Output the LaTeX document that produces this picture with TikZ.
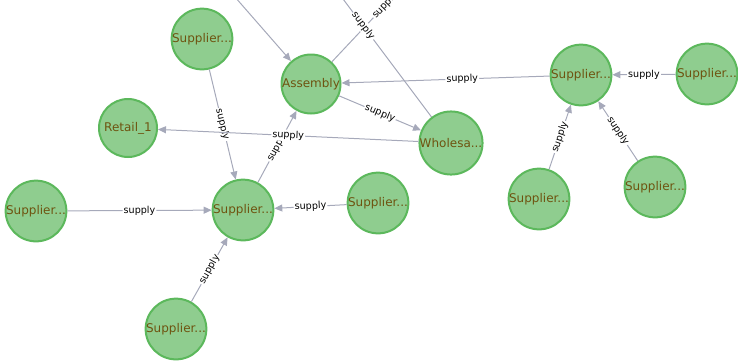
\documentclass[tikz,border=0pt]{standalone}
\usepackage{fontspec}
\setmainfont{DejaVu Sans}
\usetikzlibrary{positioning}
\usetikzlibrary{arrows.meta}
\definecolor{nodefill}{HTML}{8FCD8F}
\definecolor{nodeline}{HTML}{5CB85C}
\definecolor{nodetext}{HTML}{6E5310}
\definecolor{edgeline}{HTML}{A6A9BA}

\begin{document}
\begin{tikzpicture}[x=1pt,y=-1pt,
    entity/.style={circle,draw=nodeline,fill=nodefill,line width=2pt,
      minimum size=58pt,inner sep=0pt,text=nodetext,font=\fontsize{12}{14}\selectfont},
    flow/.style={draw=edgeline,line width=1pt,-{Triangle[length=8pt,width=7pt]}},
    lbl/.style={fill=white,inner sep=1pt,sloped,text=black,font=\fontsize{9.6}{11}\selectfont}]
  \useasboundingbox (0,0) rectangle (738,360);
  \clip (0,0) rectangle (738,360);

  % left cluster
  \node (sTop) at (202,39) [entity] {Supplier...};
  \node (assembly) at (311,84) [entity] {Assembly};
  \node (retail) at (128,128) [entity] {Retail\_1};
  \node (wholesale) at (451,143) [entity] {Wholesa...};
  \node (sCenter) at (243,210) [entity] {Supplier...};
  \node (sLeft) at (36,211) [entity] {Supplier...};
  \node (sMid) at (378,203) [entity] {Supplier...};
  \node (sBottom) at (176,329) [entity] {Supplier...};

  % right cluster
  \node (sHub) at (581,75) [entity] {Supplier...};
  \node (sFar) at (707,74) [entity] {Supplier...};
  \node (sLow) at (539,199) [entity] {Supplier...};
  \node (sRight) at (655,187) [entity] {Supplier...};

  % nodes outside the view
  \coordinate (offA) at (138,-114);
  \coordinate (offB) at (438,-51);
  \coordinate (offC) at (295,-65);

  \draw[flow] (offA) -- (assembly);
  \draw[flow] (assembly) -- node[lbl] {supply} (offB);
  \draw[flow] (wholesale) -- node[lbl] {supply} (offC);
  \draw[flow] (assembly) -- node[lbl] {supply} (wholesale);
  \draw[flow] (sTop) -- node[lbl] {supply} (sCenter);
  \draw[flow] (sCenter) -- node[lbl] {supply} (assembly);
  \draw[flow] (wholesale) -- node[lbl] {supply} (retail);
  \draw[flow] (sLeft) -- node[lbl] {supply} (sCenter);
  \draw[flow] (sMid) -- node[lbl] {supply} (sCenter);
  \draw[flow] (sBottom) -- node[lbl] {supply} (sCenter);
  \draw[flow] (sHub) -- node[lbl,pos=0.42] {supply} (assembly);
  \draw[flow] (sFar) -- node[lbl] {supply} (sHub);
  \draw[flow] (sLow) -- node[lbl] {supply} (sHub);
  \draw[flow] (sRight) -- node[lbl] {supply} (sHub);
\end{tikzpicture}
\end{document}
